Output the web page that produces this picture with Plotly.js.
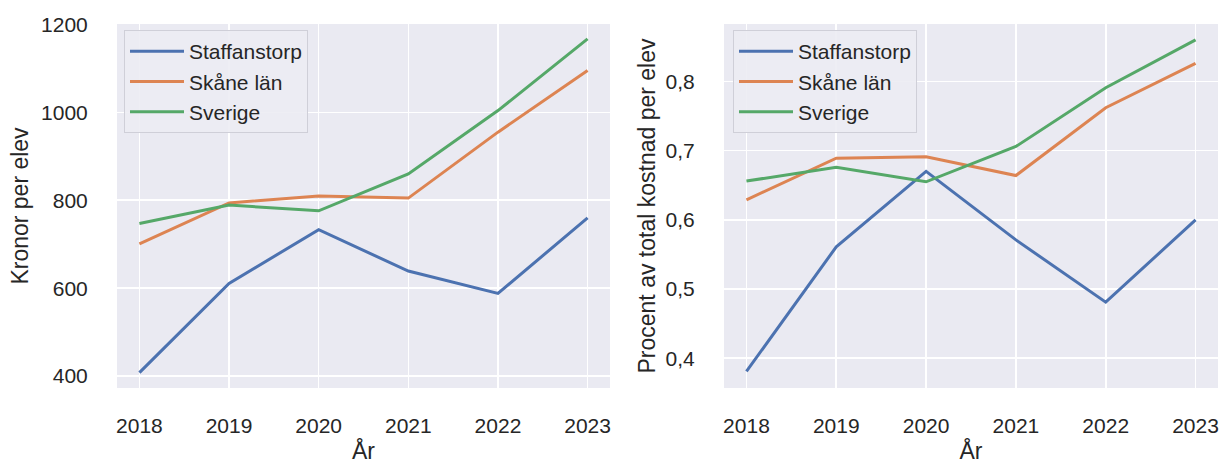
<!DOCTYPE html>
<html>
<head>
<meta charset="utf-8">
<script src="https://cdn.plot.ly/plotly-3.0.1.min.js"></script>
<style>html,body{margin:0;padding:0;background:#fff;}#chart{width:1221px;height:464px;}</style>
</head>
<body>
<div id="chart"></div>
<script>
const years = [2018, 2019, 2020, 2021, 2022, 2023];
const seriesNames = ["Staffanstorp", "Skåne län", "Sverige"];
const kronorStaffanstorp = [408, 611, 733, 639, 588, 760];
const kronorSkane = [701, 794, 810, 805, 955, 1095];
const kronorSverige = [747, 789, 776, 860, 1004, 1167];
const procentStaffanstorp = [0.381, 0.561, 0.670, 0.571, 0.481, 0.600];
const procentSkane = [0.629, 0.689, 0.691, 0.664, 0.762, 0.826];
const procentSverige = [0.656, 0.676, 0.655, 0.706, 0.791, 0.860];
const colors = ["#4c72b0", "#dd8452", "#55a868"];

const kronor = [kronorStaffanstorp, kronorSkane, kronorSverige];
const procent = [procentStaffanstorp, procentSkane, procentSverige];

const traces = [];
kronor.forEach((vals, i) => traces.push({
  x: years, y: vals, name: seriesNames[i], type: "scatter", mode: "lines",
  line: {color: colors[i], width: 3}, xaxis: "x", yaxis: "y", legend: "legend"
}));
procent.forEach((vals, i) => traces.push({
  x: years, y: vals, name: seriesNames[i], type: "scatter", mode: "lines",
  line: {color: colors[i], width: 3}, xaxis: "x2", yaxis: "y2", legend: "legend2"
}));

const txt = "#262626";
const fam = "Liberation Sans, Arial, sans-serif";
const tickFnt = {family: fam, size: 21, color: txt};
const titleFnt = {family: fam, size: 23, color: txt};
const legFnt = {family: fam, size: 21, color: txt};
const common = {
  showgrid: true, gridcolor: "#ffffff", gridwidth: 1.6, zeroline: false,
  showline: false, ticks: "outside", tickcolor: "rgba(0,0,0,0)",
  tickfont: tickFnt, automargin: false
};
const legendCommon = {
  bgcolor: "rgba(236,236,243,0.9)", bordercolor: "#cfcfd8", borderwidth: 1,
  font: legFnt, xanchor: "left", yanchor: "top", itemwidth: 54
};

const layout = {
  width: 1221, height: 464,
  margin: {l: 0, r: 0, t: 24, b: 76},
  paper_bgcolor: "#ffffff", plot_bgcolor: "#eaeaf2",
  font: tickFnt, separators: ",",
  showlegend: true,
  xaxis: Object.assign({}, common, {
    domain: [117/1221, 610/1221], range: [2017.75, 2023.25], dtick: 1, ticklen: 19,
    title: {text: "År", font: titleFnt, standoff: 8}, anchor: "y"
  }),
  yaxis: Object.assign({}, common, {
    domain: [0, 1], range: [373, 1201], dtick: 200, tickformat: "d", ticklen: 24,
    title: {text: "Kronor per elev", font: titleFnt, standoff: 6}, anchor: "x"
  }),
  xaxis2: Object.assign({}, common, {
    domain: [724/1221, 1218/1221], range: [2017.75, 2023.25], dtick: 1, ticklen: 19,
    title: {text: "År", font: titleFnt, standoff: 8}, anchor: "y2"
  }),
  yaxis2: Object.assign({}, common, {
    domain: [0, 1], range: [0.357, 0.883], dtick: 0.1, tickformat: ".1f", ticklen: 24,
    title: {text: "Procent av total kostnad per elev", font: titleFnt, standoff: 3}, anchor: "x2"
  }),
  legend: Object.assign({}, legendCommon, {x: 124/1221, y: 1 - 6/364}),
  legend2: Object.assign({}, legendCommon, {x: 733/1221, y: 1 - 6/364})
};

Plotly.newPlot("chart", traces, layout, {displayModeBar: false, staticPlot: true});
</script>
</body>
</html>
